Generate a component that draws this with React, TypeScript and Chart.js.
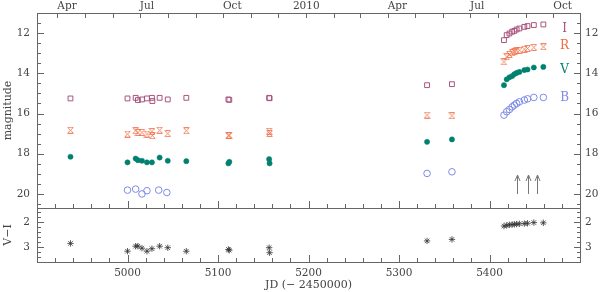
import React, { useEffect, useRef } from 'react';
import { Chart, registerables } from 'chart.js';

Chart.register(...registerables);

// ---------- data ----------
const X_MIN = 4900;
const X_MAX = 5500;
const MAG_MIN = 11;
const MAG_MAX = 20.7;
const VI_MIN = 1.45;
const VI_MAX = 3.6;

const xTickLabels = [5000, 5100, 5200, 5300, 5400];
const magTickLabels = [12, 14, 16, 18, 20];
const viTickLabels = [2, 3];

const monthStartJD = [4922.5, 4952.5, 4983.5, 5013.5, 5044.5, 5075.5, 5105.5, 5136.5, 5166.5, 5197.5, 5228.5, 5256.5, 5287.5, 5317.5, 5348.5, 5378.5, 5409.5, 5440.5, 5470.5];
const topLabelText = ['Apr', 'Jul', 'Oct', '2010', 'Apr', 'Jul', 'Oct'];
const topLabelJD = [4922.5, 5013.5, 5105.5, 5197.5, 5287.5, 5378.5, 5470.5];

const lateJD = [5416, 5419, 5422, 5425, 5427.5, 5430, 5433, 5438.5, 5442, 5449, 5459.5];

const jdI = [4937, 5000, 5009, 5011.5, 5016, 5021.5, 5027, 5027.5, 5035.5, 5044.5, 5065, 5111.5, 5112.5, 5156.5, 5157, 5331, 5358.5, ...lateJD];
const magI = [15.25, 15.25, 15.22, 15.33, 15.30, 15.25, 15.22, 15.38, 15.22, 15.30, 15.22, 15.30, 15.32, 15.22, 15.24, 14.59, 14.54,
  12.35, 12.10, 12.02, 11.93, 11.89, 11.82, 11.77, 11.69, 11.65, 11.60, 11.57];

const jdR = jdI;
const magR = [16.83, 17.02, 16.86, 16.94, 16.94, 17.02, 16.90, 17.10, 16.83, 17.00, 16.86, 17.10, 17.08, 16.88, 16.99, 16.08, 16.11,
  13.43, 13.18, 13.06, 12.98, 12.92, 12.87, 12.85, 12.80, 12.76, 12.71, 12.68];

const jdV = [4937, 5000, 5009, 5011.5, 5016, 5021.5, 5027, 5035.5, 5044.5, 5065, 5111.5, 5112.5, 5156.5, 5157, 5331, 5358.5, ...lateJD];
const magV = [18.15, 18.43, 18.24, 18.32, 18.35, 18.43, 18.43, 18.19, 18.35, 18.37, 18.48, 18.40, 18.27, 18.48, 17.41, 17.29,
  14.59, 14.30, 14.20, 14.14, 14.04, 13.98, 13.93, 13.84, 13.81, 13.71, 13.68];

const jdB = [5000, 5009, 5016, 5021.5, 5034.5, 5043.5, 5331, 5358.5, ...lateJD];
const magB = [19.81, 19.76, 20.00, 19.84, 19.81, 19.93, 18.98, 18.90,
  16.08, 15.91, 15.80, 15.67, 15.58, 15.50, 15.42, 15.33, 15.27, 15.20, 15.20];

const jdVI = jdV;
const valVI = [2.86, 3.17, 2.97, 2.97, 3.05, 3.17, 3.07, 2.97, 3.03, 3.17, 3.10, 3.13, 3.03, 3.23, 2.76, 2.70,
  2.17, 2.14, 2.12, 2.11, 2.10, 2.09, 2.08, 2.07, 2.06, 2.03, 2.04];

const arrowJD = [5430, 5442, 5452];
const arrowFrom = 20.0;
const arrowTo = 19.06;

const bandNames = ['I', 'R', 'V', 'B'];

// ---------- styles ----------
const FONT = 'DejaVu Serif';
const AXIS = '#666666';
const TEXT = '#444444';
const COL_I = '#a8557e';
const COL_R = '#f06a42';
const COL_V = '#00806e';
const COL_B = '#7d8ae6';
const COL_VI = '#333333';
const bandColors = [COL_I, COL_R, COL_V, COL_B];
const bandLabelMag = [11.78, 12.65, 13.82, 15.2];
const BAND_LABEL_JD = 5483;

function pts(xs: number[], ys: number[]) {
  return xs.map((x, i) => ({ x, y: ys[i] }));
}

function makeRSymbol(color: string) {
  const c = document.createElement('canvas');
  c.width = 7;
  c.height = 7;
  const g = c.getContext('2d')!;
  g.strokeStyle = color;
  g.lineWidth = 0.8;
  g.beginPath();
  g.moveTo(1, 1); g.lineTo(6, 6);
  g.moveTo(6, 1); g.lineTo(1, 6);
  g.moveTo(0.5, 0.5); g.lineTo(6.5, 0.5);
  g.moveTo(0.5, 6.5); g.lineTo(6.5, 6.5);
  g.stroke();
  return c;
}

// 1px crisp lines via fillRect
function vSeg(ctx: CanvasRenderingContext2D, x: number, y1: number, y2: number) {
  const top = Math.min(y1, y2);
  ctx.fillRect(Math.round(x), Math.round(top), 1, Math.max(1, Math.round(Math.abs(y2 - y1))));
}
function hSeg(ctx: CanvasRenderingContext2D, x1: number, x2: number, y: number) {
  const left = Math.min(x1, x2);
  ctx.fillRect(Math.round(left), Math.round(y), Math.max(1, Math.round(Math.abs(x2 - x1))), 1);
}

function drawFrameAndTicks(chart: any, yMajor: number[], yMinorStep: number, yMin: number, yMax: number) {
  const ctx: CanvasRenderingContext2D = chart.ctx;
  const a = chart.chartArea;
  const xs = chart.scales.x;
  const ys = chart.scales.y;
  const L = Math.round(a.left);
  const R = Math.round(a.right);
  const T = Math.round(a.top);
  const B = Math.round(a.bottom);
  ctx.save();
  ctx.fillStyle = AXIS;
  // frame
  ctx.fillRect(L, T, R - L + 1, 1);
  ctx.fillRect(L, B, R - L + 1, 1);
  ctx.fillRect(L, T, 1, B - T + 1);
  ctx.fillRect(R, T, 1, B - T + 1);
  // x ticks on bottom edge (pointing up)
  for (let k = Math.ceil(X_MIN / 20); k * 20 <= X_MAX; k++) {
    const v = k * 20;
    const px = xs.getPixelForValue(v);
    const len = v % 100 === 0 ? 7 : 4;
    vSeg(ctx, px, B - len, B);
  }
  // y ticks both sides
  const nMin = Math.ceil(yMin / yMinorStep - 1e-6);
  const nMax = Math.floor(yMax / yMinorStep + 1e-6);
  for (let k = nMin; k <= nMax; k++) {
    const v = +(k * yMinorStep).toFixed(4);
    const major = yMajor.some((m) => Math.abs(m - v) < 1e-6);
    const py = ys.getPixelForValue(v);
    const len = major ? 7 : 4;
    hSeg(ctx, L, L + len, py);
    hSeg(ctx, R - len + 1, R + 1, py);
  }
  ctx.restore();
}

const topPlugin = {
  id: 'topFrame',
  afterDraw(chart: any) {
    const ctx: CanvasRenderingContext2D = chart.ctx;
    const a = chart.chartArea;
    const xs = chart.scales.x;
    const ys = chart.scales.y;
    drawFrameAndTicks(chart, magTickLabels, 0.5, MAG_MIN, MAG_MAX);
    ctx.save();
    ctx.fillStyle = AXIS;
    const T = Math.round(a.top);
    monthStartJD.forEach((jd) => {
      vSeg(ctx, xs.getPixelForValue(jd), T, T + 5);
    });
    // month / year labels
    ctx.fillStyle = TEXT;
    ctx.font = `10.5px "${FONT}"`;
    ctx.textBaseline = 'middle';
    topLabelText.forEach((t, i) => {
      const px = xs.getPixelForValue(topLabelJD[i]);
      const isYear = /^\d+$/.test(t);
      ctx.textAlign = isYear ? 'center' : 'left';
      ctx.fillText(t, px, 6.5);
    });
    // band labels
    ctx.font = `12px "${FONT}"`;
    ctx.textAlign = 'center';
    bandNames.forEach((n, i) => {
      ctx.fillStyle = bandColors[i];
      ctx.fillText(n, xs.getPixelForValue(BAND_LABEL_JD), ys.getPixelForValue(bandLabelMag[i]));
    });
    // arrows
    ctx.strokeStyle = '#777777';
    ctx.lineWidth = 1;
    arrowJD.forEach((jd) => {
      const px = Math.round(xs.getPixelForValue(jd)) + 0.5;
      const y0 = ys.getPixelForValue(arrowFrom);
      const y1 = ys.getPixelForValue(arrowTo);
      ctx.beginPath();
      ctx.moveTo(px, y0);
      ctx.lineTo(px, y1);
      ctx.moveTo(px - 2.5, y1 + 6);
      ctx.lineTo(px, y1);
      ctx.lineTo(px + 2.5, y1 + 6);
      ctx.stroke();
    });
    ctx.restore();
  },
};

const botPlugin = {
  id: 'botFrame',
  afterDraw(chart: any) {
    drawFrameAndTicks(chart, viTickLabels, 0.2, VI_MIN, VI_MAX);
  },
};

function yAxis(min: number, max: number, ticks: number[], position: string, width: number, title?: string) {
  return {
    type: 'linear',
    position,
    min,
    max,
    reverse: true,
    afterBuildTicks: (s: any) => { s.ticks = ticks.map((v) => ({ value: v })); },
    afterFit: (s: any) => { s.width = width; },
    grid: { display: true, drawOnChartArea: false, drawTicks: true, tickLength: position === 'left' ? 7 : 5, color: 'rgba(0,0,0,0)' },
    border: { display: false },
    ticks: { padding: 0, color: TEXT, font: { family: FONT, size: 10.5 } },
    title: title
      ? { display: true, text: title, color: TEXT, font: { family: FONT, size: 11 }, padding: { top: 2, bottom: 0 } }
      : { display: false },
  };
}

const TOP_H = 216;
const BOT_TOP = 200;
const BOT_H = 92;

export default function App() {
  const topRef = useRef<HTMLCanvasElement>(null);
  const botRef = useRef<HTMLCanvasElement>(null);

  useEffect(() => {
    const rSym = makeRSymbol(COL_R);
    const top = new Chart(topRef.current!, {
      type: 'scatter',
      data: {
        datasets: [
          { label: 'I', data: pts(jdI, magI), pointStyle: 'rect', pointRadius: 3.4, backgroundColor: 'rgba(0,0,0,0)', borderColor: COL_I, borderWidth: 1 },
          { label: 'R', data: pts(jdR, magR), pointStyle: rSym as any, pointRadius: 3.5, backgroundColor: COL_R, borderColor: COL_R },
          { label: 'V', data: pts(jdV, magV), pointStyle: 'circle', pointRadius: 2.6, backgroundColor: COL_V, borderColor: COL_V, borderWidth: 0.5 },
          { label: 'B', data: pts(jdB, magB), pointStyle: 'circle', pointRadius: 3.3, backgroundColor: 'rgba(0,0,0,0)', borderColor: COL_B, borderWidth: 1 },
        ],
      },
      options: {
        responsive: false,
        animation: false,
        devicePixelRatio: 1,
        layout: { padding: { top: 13, bottom: TOP_H - 208, left: 0, right: 0 } },
        plugins: { legend: { display: false }, tooltip: { enabled: false } },
        scales: {
          x: { type: 'linear', min: X_MIN, max: X_MAX, display: false },
          y: yAxis(MAG_MIN, MAG_MAX, magTickLabels, 'left', 37, 'magnitude') as any,
          yr: yAxis(MAG_MIN, MAG_MAX, magTickLabels, 'right', 20) as any,
        },
      },
      plugins: [topPlugin],
    } as any);

    const bot = new Chart(botRef.current!, {
      type: 'scatter',
      data: {
        datasets: [
          { label: 'V−I', data: pts(jdVI, valVI), pointStyle: 'star', pointRadius: 3.2, backgroundColor: COL_VI, borderColor: COL_VI, borderWidth: 0.8 },
        ],
      },
      options: {
        responsive: false,
        animation: false,
        devicePixelRatio: 1,
        layout: { padding: { top: 208 - BOT_TOP, bottom: 0, left: 0, right: 0 } },
        plugins: { legend: { display: false }, tooltip: { enabled: false } },
        scales: {
          x: {
            type: 'linear',
            position: 'bottom',
            min: X_MIN,
            max: X_MAX,
            afterBuildTicks: (s: any) => { s.ticks = xTickLabels.map((v) => ({ value: v })); },
            afterFit: (s: any) => { s.height = 30; },
            grid: { display: false, drawTicks: false },
            border: { display: false },
            ticks: { padding: 5, color: TEXT, font: { family: FONT, size: 10.5 }, maxRotation: 0, callback: (v: any) => String(v) },
            title: { display: true, text: 'JD (− 2450000)', color: TEXT, font: { family: FONT, size: 11 }, padding: 0 },
          },
          y: yAxis(VI_MIN, VI_MAX, viTickLabels, 'left', 37, 'V−I') as any,
          yr: yAxis(VI_MIN, VI_MAX, viTickLabels, 'right', 20) as any,
        },
      },
      plugins: [botPlugin],
    } as any);

    return () => {
      top.destroy();
      bot.destroy();
    };
  }, []);

  return (
    <div style={{ position: 'fixed', left: 0, top: 0, width: 600, height: 292, background: '#fff' }}>
      <canvas ref={topRef} width={600} height={TOP_H} style={{ position: 'absolute', left: 0, top: 0 }} />
      <canvas ref={botRef} width={600} height={BOT_H} style={{ position: 'absolute', left: 0, top: BOT_TOP }} />
    </div>
  );
}
